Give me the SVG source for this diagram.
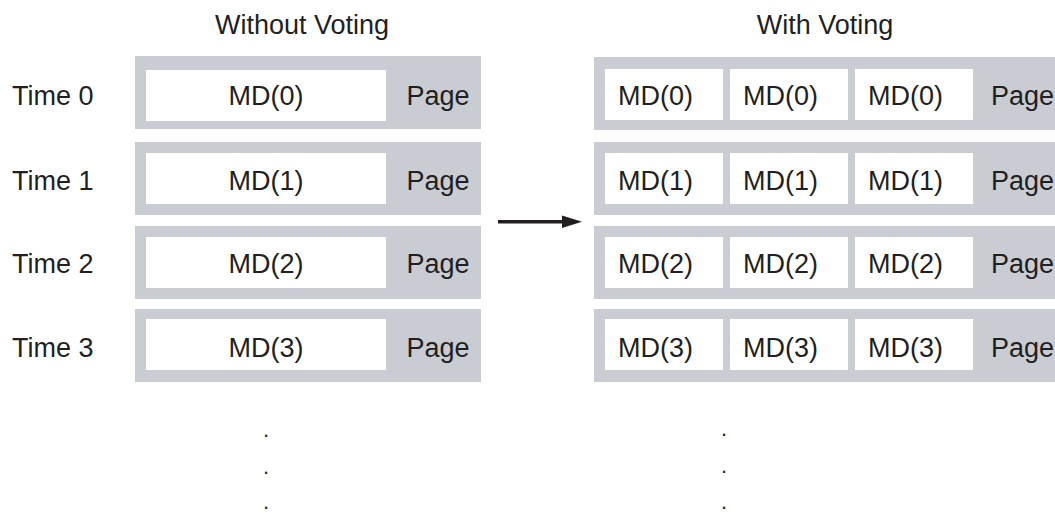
<svg xmlns="http://www.w3.org/2000/svg" width="1055" height="514" viewBox="0 0 1055 514">
<style>
text{font-family:"Liberation Sans",Arial,sans-serif;font-size:27px;fill:#231f20}
.g{fill:#c9ccd3}
.w{fill:#ffffff}
.c{text-anchor:middle}
.d{font-size:22px}
</style>
<rect width="1055" height="514" fill="#ffffff"/>
<text class="c" x="302" y="34">Without Voting</text>
<text class="c" x="825" y="34">With Voting</text>
<g id="labels">
<text x="12" y="105">Time 0</text>
<text x="12" y="190">Time 1</text>
<text x="12" y="273">Time 2</text>
<text x="12" y="357">Time 3</text>
</g>
<g id="left0"><rect class="g" x="135" y="56" width="346" height="73"/><rect class="w" x="146" y="70" width="240" height="51"/><text class="c" x="266" y="105">MD(0)</text><text class="c" x="438" y="105">Page</text></g>
<g id="left1"><rect class="g" x="135" y="142" width="346" height="73"/><rect class="w" x="146" y="153" width="240" height="51"/><text class="c" x="266" y="190">MD(1)</text><text class="c" x="438" y="190">Page</text></g>
<g id="left2"><rect class="g" x="135" y="226" width="346" height="73"/><rect class="w" x="146" y="237" width="240" height="51"/><text class="c" x="266" y="273">MD(2)</text><text class="c" x="438" y="273">Page</text></g>
<g id="left3"><rect class="g" x="135" y="309" width="346" height="73"/><rect class="w" x="146" y="319" width="240" height="51"/><text class="c" x="266" y="357">MD(3)</text><text class="c" x="438" y="357">Page</text></g>
<g id="right0"><rect class="g" x="594" y="57" width="470" height="73"/><rect class="w" x="605" y="69" width="118" height="51"/><rect class="w" x="730" y="69" width="118" height="51"/><rect class="w" x="855" y="69" width="118" height="51"/><text x="618" y="105">MD(0)</text><text x="743" y="105">MD(0)</text><text x="868" y="105">MD(0)</text><text x="991" y="105">Page</text></g>
<g id="right1"><rect class="g" x="594" y="142" width="470" height="73"/><rect class="w" x="605" y="153" width="118" height="51"/><rect class="w" x="730" y="153" width="118" height="51"/><rect class="w" x="855" y="153" width="118" height="51"/><text x="618" y="190">MD(1)</text><text x="743" y="190">MD(1)</text><text x="868" y="190">MD(1)</text><text x="991" y="190">Page</text></g>
<g id="right2"><rect class="g" x="594" y="226" width="470" height="73"/><rect class="w" x="605" y="237" width="118" height="51"/><rect class="w" x="730" y="237" width="118" height="51"/><rect class="w" x="855" y="237" width="118" height="51"/><text x="618" y="273">MD(2)</text><text x="743" y="273">MD(2)</text><text x="868" y="273">MD(2)</text><text x="991" y="273">Page</text></g>
<g id="right3"><rect class="g" x="594" y="309" width="470" height="73"/><rect class="w" x="605" y="319" width="118" height="51"/><rect class="w" x="730" y="319" width="118" height="51"/><rect class="w" x="855" y="319" width="118" height="51"/><text x="618" y="357">MD(3)</text><text x="743" y="357">MD(3)</text><text x="868" y="357">MD(3)</text><text x="991" y="357">Page</text></g>
<g id="dots">
<text class="c d" x="266" y="437">.</text><text class="c d" x="266" y="474">.</text><text class="c d" x="266" y="509">.</text>
<text class="c d" x="724" y="436">.</text><text class="c d" x="724" y="473">.</text><text class="c d" x="724" y="509">.</text>
</g>
<g id="connectors">
<line x1="498" y1="221.7" x2="564" y2="221.7" stroke="#231f20" stroke-width="3.5"/>
<polygon points="562,215.5 582,221.7 562,228" fill="#231f20"/>
</g>
</svg>
